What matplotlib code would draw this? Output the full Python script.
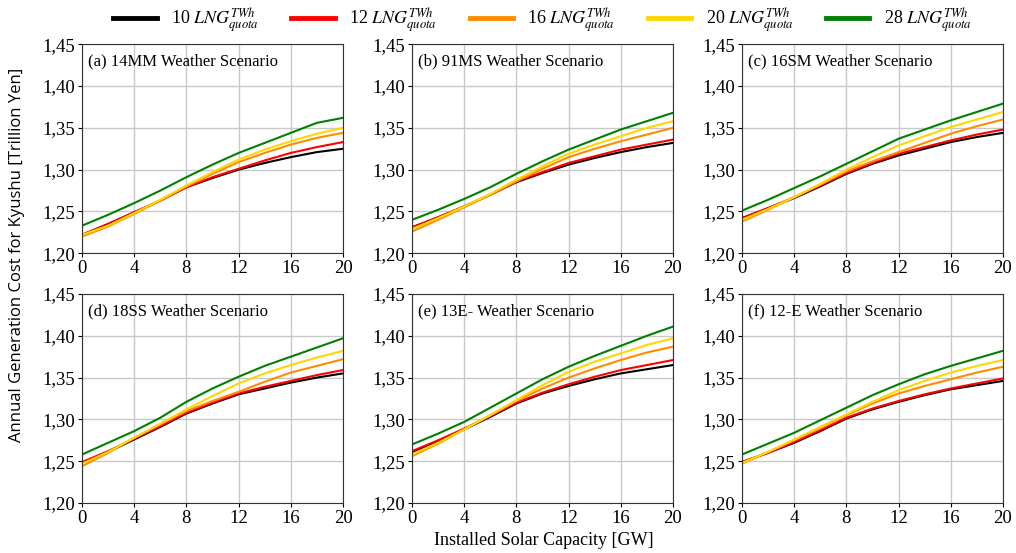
import numpy as np
import matplotlib
matplotlib.use('Agg')
import matplotlib.pyplot as plt
from matplotlib.ticker import FuncFormatter

plt.rcParams['font.family'] = 'Liberation Serif'
plt.rcParams['mathtext.fontset'] = 'stix'

solar = [0, 2, 4, 6, 8, 10, 12, 14, 16, 18, 20]
quotas = [10, 12, 16, 20, 28]
colors = ['black', 'red', 'darkorange', 'gold', 'green']
titles = ['(a) 14MM Weather Scenario', '(b) 91MS Weather Scenario', '(c) 16SM Weather Scenario',
          '(d) 18SS Weather Scenario', '(e) 13E- Weather Scenario', '(f) 12-E Weather Scenario']

# cost per scenario, one list per LNG quota (10, 12, 16, 20, 28 TWh)
cost_a = [
    [1.222, 1.235, 1.249, 1.263, 1.279, 1.290, 1.300, 1.308, 1.315, 1.321, 1.325],
    [1.222, 1.235, 1.249, 1.263, 1.279, 1.291, 1.301, 1.311, 1.320, 1.327, 1.333],
    [1.220, 1.232, 1.247, 1.263, 1.280, 1.295, 1.309, 1.320, 1.330, 1.338, 1.344],
    [1.222, 1.233, 1.248, 1.264, 1.281, 1.297, 1.312, 1.324, 1.334, 1.343, 1.350],
    [1.233, 1.246, 1.260, 1.275, 1.291, 1.306, 1.320, 1.332, 1.344, 1.356, 1.362],
]
cost_b = [
    [1.231, 1.243, 1.256, 1.270, 1.285, 1.296, 1.306, 1.314, 1.321, 1.327, 1.332],
    [1.231, 1.243, 1.256, 1.270, 1.286, 1.297, 1.308, 1.316, 1.324, 1.330, 1.336],
    [1.226, 1.240, 1.255, 1.270, 1.286, 1.301, 1.315, 1.325, 1.334, 1.342, 1.350],
    [1.229, 1.242, 1.256, 1.271, 1.288, 1.304, 1.319, 1.330, 1.340, 1.350, 1.358],
    [1.240, 1.252, 1.265, 1.279, 1.295, 1.310, 1.324, 1.336, 1.348, 1.358, 1.368],
]
cost_c = [
    [1.242, 1.254, 1.266, 1.280, 1.295, 1.307, 1.317, 1.325, 1.333, 1.339, 1.344],
    [1.242, 1.254, 1.267, 1.281, 1.296, 1.308, 1.319, 1.327, 1.335, 1.342, 1.348],
    [1.238, 1.252, 1.267, 1.282, 1.298, 1.310, 1.321, 1.332, 1.343, 1.352, 1.360],
    [1.240, 1.253, 1.267, 1.283, 1.300, 1.315, 1.329, 1.340, 1.351, 1.360, 1.369],
    [1.251, 1.264, 1.278, 1.292, 1.307, 1.322, 1.337, 1.348, 1.359, 1.369, 1.379],
]
cost_d = [
    [1.248, 1.261, 1.276, 1.291, 1.307, 1.319, 1.330, 1.337, 1.344, 1.350, 1.355],
    [1.249, 1.262, 1.277, 1.292, 1.308, 1.320, 1.331, 1.339, 1.346, 1.353, 1.359],
    [1.244, 1.260, 1.278, 1.294, 1.310, 1.322, 1.333, 1.345, 1.356, 1.364, 1.372],
    [1.247, 1.261, 1.278, 1.295, 1.312, 1.328, 1.343, 1.355, 1.365, 1.374, 1.382],
    [1.258, 1.272, 1.286, 1.302, 1.321, 1.337, 1.351, 1.364, 1.375, 1.386, 1.397],
]
cost_e = [
    [1.261, 1.274, 1.288, 1.303, 1.319, 1.331, 1.340, 1.348, 1.355, 1.360, 1.365],
    [1.262, 1.275, 1.289, 1.304, 1.320, 1.332, 1.342, 1.351, 1.359, 1.365, 1.371],
    [1.256, 1.271, 1.288, 1.305, 1.322, 1.337, 1.350, 1.361, 1.371, 1.380, 1.387],
    [1.258, 1.272, 1.288, 1.305, 1.323, 1.341, 1.357, 1.369, 1.379, 1.389, 1.397],
    [1.270, 1.283, 1.297, 1.314, 1.331, 1.348, 1.363, 1.376, 1.388, 1.400, 1.411],
]
cost_f = [
    [1.249, 1.260, 1.272, 1.286, 1.301, 1.312, 1.321, 1.329, 1.336, 1.341, 1.346],
    [1.249, 1.260, 1.273, 1.287, 1.302, 1.313, 1.322, 1.330, 1.337, 1.343, 1.349],
    [1.247, 1.261, 1.275, 1.290, 1.305, 1.319, 1.331, 1.340, 1.348, 1.356, 1.363],
    [1.248, 1.261, 1.276, 1.291, 1.306, 1.321, 1.335, 1.346, 1.356, 1.364, 1.371],
    [1.258, 1.271, 1.284, 1.299, 1.314, 1.329, 1.342, 1.354, 1.364, 1.373, 1.382],
]
scenarios = [cost_a, cost_b, cost_c, cost_d, cost_e, cost_f]

fig = plt.figure(figsize=(10.16, 5.53), dpi=100)
lefts = [0.0807, 0.4055, 0.7303]
bottoms = [0.542, 0.0904]
comma = FuncFormatter(lambda v, p: f'{v:.2f}'.replace('.', ','))

for i, data in enumerate(scenarios):
    ax = fig.add_axes([lefts[i % 3], bottoms[i // 3], 0.2569, 0.378])
    for q, c, ys in zip(quotas, colors, data):
        ax.plot(solar, ys, color=c, lw=1.5, label=f'{q} $LNG^{{TWh}}_{{quota}}$')
    ax.set_xlim(0, 20)
    ax.set_ylim(1.2, 1.45)
    ax.set_xticks([0, 4, 8, 12, 16, 20])
    ax.set_yticks([1.20, 1.25, 1.30, 1.35, 1.40, 1.45])
    ax.yaxis.set_major_formatter(comma)
    ax.grid(True, color='#c8c8c8', lw=1)
    ax.set_axisbelow(True)
    ax.tick_params(labelsize=13.5, length=3, pad=2)
    for s in ax.spines.values():
        s.set_color('#333333')
    ax.text(0.022, 0.955, titles[i], transform=ax.transAxes, ha='left', va='top', fontsize=12)
    if i == 0:
        handles, labels = ax.get_legend_handles_labels()

leg = fig.legend(handles, labels, loc='center', bbox_to_anchor=(0.534, 0.963), ncol=5,
                 frameon=False, fontsize=13, handlelength=2.4, columnspacing=1.8)
for h in leg.get_lines():
    h.set_linewidth(3.5)

fig.text(0.535, 0.022, 'Installed Solar Capacity [GW]', ha='center', va='center', fontsize=13)
fig.text(0.017, 0.539, 'Annual Generation Cost for Kyushu [Trillion Yen]', rotation=90,
         ha='center', va='center', fontsize=12, family='Open Sans')

fig.savefig('out.png', dpi=100)
